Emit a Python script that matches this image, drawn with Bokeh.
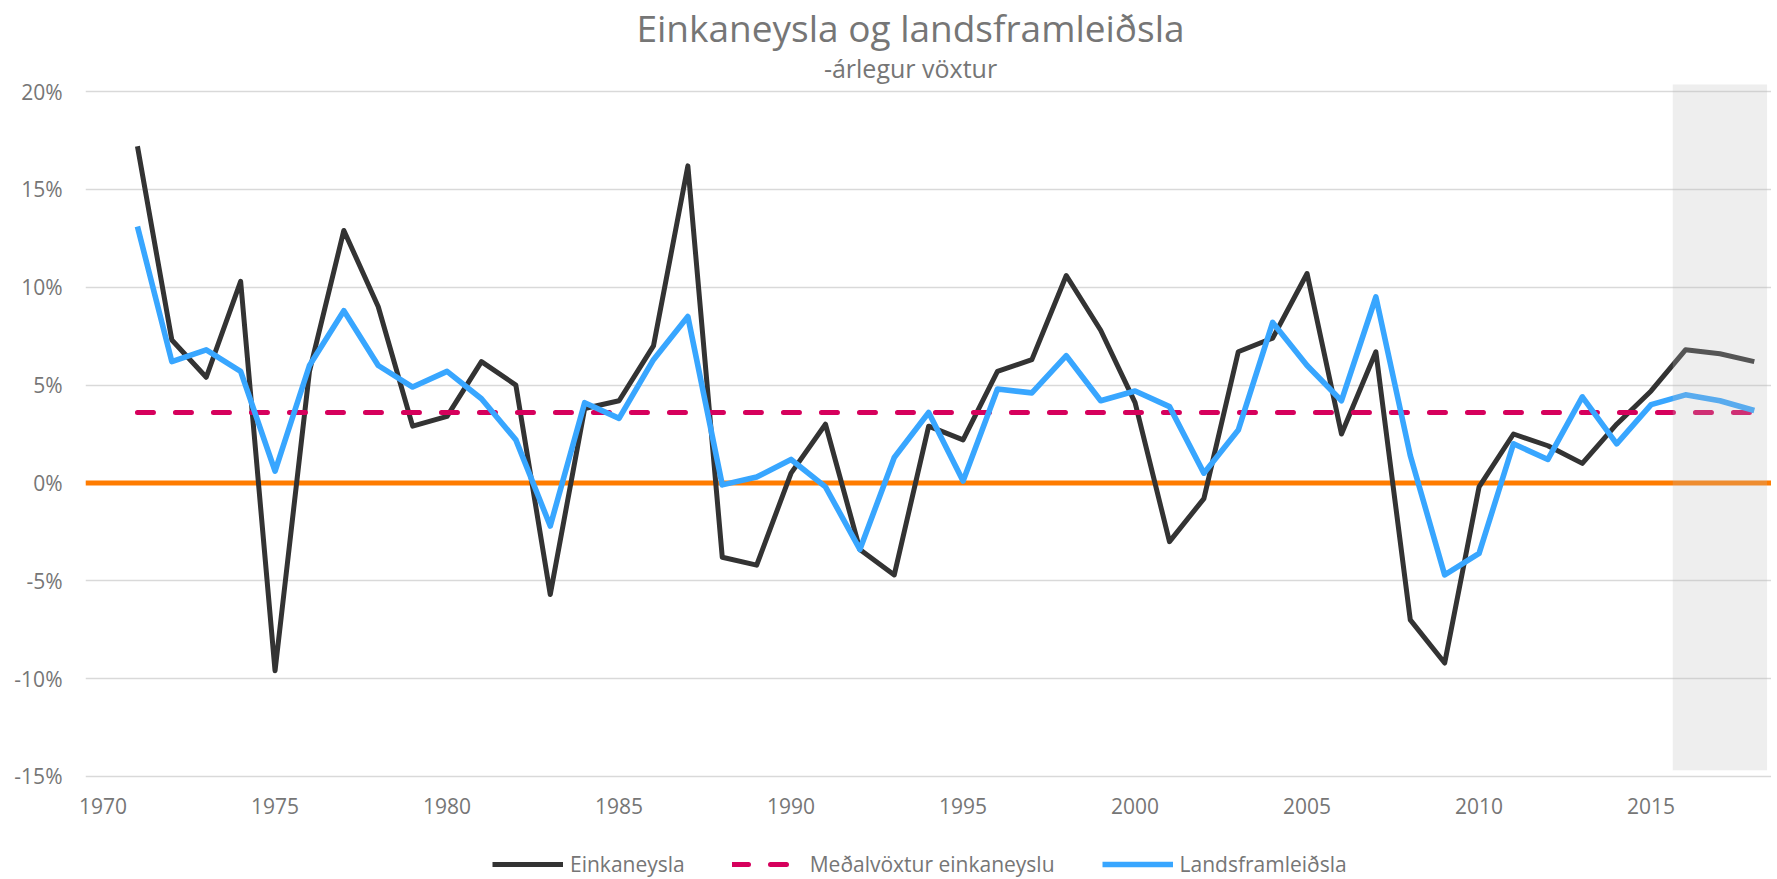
from bokeh.plotting import figure
from bokeh.layouts import column
from bokeh.models import Range1d, FixedTicker, Span, Legend, LegendItem, Label
from bokeh.embed import file_html
from bokeh.resources import INLINE

# ---- data (annual growth, %) ----
years = list(range(1971, 2019))
einkaneysla = [17.2, 7.3, 5.4, 10.3, -9.6, 5.7, 12.9, 9.0, 2.9, 3.4,
               6.2, 5.0, -5.7, 3.8, 4.2, 7.0, 16.2, -3.8, -4.2, 0.5,
               3.0, -3.4, -4.7, 2.9, 2.2, 5.7, 6.3, 10.6, 7.8, 4.1,
               -3.0, -0.8, 6.7, 7.4, 10.7, 2.5, 6.7, -7.0, -9.2, -0.2,
               2.5, 1.9, 1.0, 3.0, 4.7, 6.8, 6.6, 6.2]
landsframleidsla = [13.1, 6.2, 6.8, 5.7, 0.6, 6.0, 8.8, 6.0, 4.9, 5.7,
                    4.3, 2.2, -2.2, 4.1, 3.3, 6.3, 8.5, -0.1, 0.3, 1.2,
                    -0.2, -3.4, 1.3, 3.6, 0.1, 4.8, 4.6, 6.5, 4.2, 4.7,
                    3.9, 0.5, 2.7, 8.2, 6.0, 4.2, 9.5, 1.4, -4.7, -3.6,
                    2.0, 1.2, 4.4, 2.0, 4.0, 4.5, 4.2, 3.7]
medalvoxtur = 3.6
mean_x = [years[0], years[-1]]
mean_y = [medalvoxtur, medalvoxtur]

# forecast shading (spá)
spa_x = [2015.63, 2018.37]
spa_y = [-14.68, 20.36]

x_ticks = [1970, 1975, 1980, 1985, 1990, 1995, 2000, 2005, 2010, 2015]
x_tick_labels = ["1970", "1975", "1980", "1985", "1990", "1995", "2000", "2005", "2010", "2015"]
y_ticks = [-15, -10, -5, 0, 5, 10, 15, 20]
y_tick_labels = ["-15%", "-10%", "-5%", "0%", "5%", "10%", "15%", "20%"]

title_text = "Einkaneysla og landsframleiðsla"
subtitle_text = "-árlegur vöxtur"
labels = ["Einkaneysla", "Meðalvöxtur einkaneyslu", "Landsframleiðsla"]

FONT = "Open Sans"
TXT = "#767676"
C_EK, C_MEAN, C_LF, C_ZERO = "#333333", "#D6005C", "#38A6FF", "#FF7C00"
W_EK, W_MEAN, W_LF = 5.0, 5.0, 5.6
DASH = "16 22"

FW, FH = 1686, 783
p = figure(frame_width=FW, frame_height=FH, output_backend="svg", toolbar_location=None,
           title=None,
           x_range=Range1d(1969.49, 2018.50), y_range=Range1d(-15.358, 24.650),
           min_border_left=85, min_border_right=0, min_border_top=0, min_border_bottom=58)

p.outline_line_color = None
p.background_fill_color = "white"
p.border_fill_color = "white"
p.xgrid.visible = False
p.ygrid.grid_line_color = "#D9D9D9"
p.ygrid.grid_line_width = 1.6

p.xaxis.ticker = FixedTicker(ticks=x_ticks)
p.xaxis.major_label_overrides = dict(zip(x_ticks, x_tick_labels))
p.yaxis.ticker = FixedTicker(ticks=y_ticks)
p.yaxis.major_label_overrides = dict(zip(y_ticks, y_tick_labels))
p.ygrid.ticker = FixedTicker(ticks=y_ticks)
for ax in (p.xaxis, p.yaxis):
    ax.axis_line_color = None
    ax.major_tick_line_color = None
    ax.minor_tick_line_color = None
    ax.major_tick_out = 0
    ax.major_tick_in = 0
    ax.minor_tick_out = 0
    ax.minor_tick_in = 0
    ax.major_label_text_font = FONT
    ax.major_label_text_font_size = "21px"
    ax.major_label_text_color = TXT
p.xaxis.major_label_standoff = 14
p.yaxis.major_label_standoff = 23

# titles inside the frame (screen units from frame bottom-left)
p.add_layout(Label(x=825, y=FH - 27, x_units="screen", y_units="screen", text=title_text,
                   text_align="center", text_baseline="alphabetic", text_font=FONT,
                   text_font_size="37px", text_color=TXT))
p.add_layout(Label(x=825, y=FH - 67, x_units="screen", y_units="screen", text=subtitle_text,
                   text_align="center", text_baseline="alphabetic", text_font=FONT,
                   text_font_size="25px", text_color=TXT))

zero = Span(location=0, dimension="width", line_color=C_ZERO, line_width=5, level="underlay")
p.add_layout(zero)

p.line(years, einkaneysla, line_color=C_EK, line_width=W_EK, line_join="round")
p.line(mean_x, mean_y, line_color=C_MEAN, line_width=W_MEAN, line_dash=DASH, line_cap="round")
p.line(years, landsframleidsla, line_color=C_LF, line_width=W_LF, line_join="round")

p.quad(left=[spa_x[0]], right=[spa_x[1]], bottom=[spa_y[0]], top=[spa_y[1]],
       fill_color="#BBBBBB", fill_alpha=0.25, line_color=None)

# ---- legend strip below the chart (same series, drawn off-range so only the key shows) ----
q = figure(width=85 + FW, height=38, output_backend="svg", toolbar_location=None, title=None,
           x_axis_location=None, y_axis_location=None, min_border=0,
           x_range=Range1d(0, 1), y_range=Range1d(0, 1))
q.outline_line_color = None
q.grid.visible = False
k1 = q.line(years, einkaneysla, line_color=C_EK, line_width=W_EK)
k2 = q.line(mean_x, mean_y, line_color=C_MEAN, line_width=W_MEAN, line_dash=DASH, line_cap="round")
k3 = q.line(years, landsframleidsla, line_color=C_LF, line_width=W_LF)
legend = Legend(items=[LegendItem(label=labels[0], renderers=[k1]),
                       LegendItem(label=labels[1], renderers=[k2]),
                       LegendItem(label=labels[2], renderers=[k3])],
                orientation="horizontal", location=(407, 0),
                label_text_font=FONT, label_text_font_size="21px", label_text_color=TXT,
                glyph_width=71, glyph_height=30, label_standoff=7, spacing=47,
                padding=0, margin=0, border_line_alpha=0, background_fill_alpha=0,
                label_height=30)
q.add_layout(legend, "center")

layout = column(p, q, spacing=0)
open("out.html", "w").write(file_html(layout, INLINE))
